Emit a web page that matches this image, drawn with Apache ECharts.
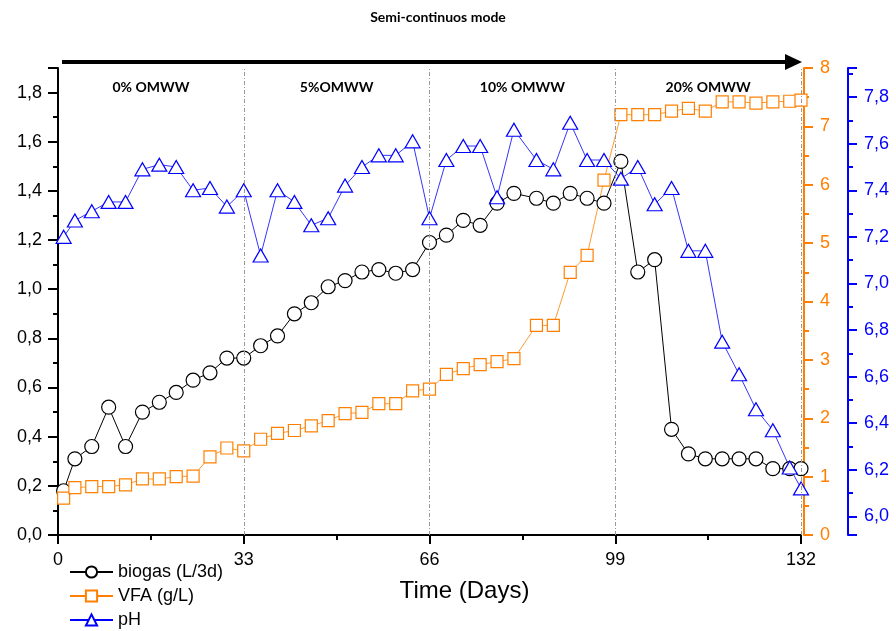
<!DOCTYPE html>
<html>
<head>
<meta charset="utf-8">
<script src="https://cdn.jsdelivr.net/npm/echarts@6/dist/echarts.min.js"></script>
<style>
  html, body { margin: 0; padding: 0; background: #fff; }
  #chart { width: 896px; height: 631px; }
</style>
</head>
<body>
<div id="chart"></div>
<script>
// sampling days (x positions)
const days = [1, 3, 6, 9, 12, 15, 18, 21, 24, 27, 30, 33, 36, 39, 42, 45, 48, 51, 54, 57, 60, 63,
  66, 69, 72, 75, 78, 81, 85, 88, 91, 94, 97, 100, 103, 106, 109, 112, 115, 118, 121, 124, 127, 130, 132]

// biogas (L/3d), left axis
const biogas = [0.18, 0.31, 0.36, 0.52, 0.36, 0.50, 0.54, 0.58, 0.63, 0.66, 0.72, 0.72, 0.77, 0.81, 0.90, 0.945,
  1.01, 1.035, 1.07, 1.08, 1.065, 1.08, 1.19, 1.22, 1.28, 1.26, 1.35, 1.39, 1.37, 1.35, 1.39, 1.37, 1.35, 1.52,
  1.07, 1.12, 0.43, 0.33, 0.31, 0.31, 0.31, 0.31, 0.27, 0.27, 0.27]

// VFA (g/L), orange right axis
const vfa = [0.63, 0.81, 0.83, 0.83, 0.86, 0.96, 0.96, 1.00, 1.01, 1.34, 1.49, 1.44, 1.64, 1.74, 1.79, 1.87,
  1.96, 2.08, 2.10, 2.25, 2.25, 2.47, 2.50, 2.75, 2.85, 2.92, 2.97, 3.02, 3.59, 3.59, 4.50, 4.79, 6.08, 7.20,
  7.20, 7.20, 7.26, 7.31, 7.26, 7.42, 7.42, 7.40, 7.42, 7.43, 7.45]

// pH, blue right axis
const ph = [7.20, 7.27, 7.31, 7.35, 7.35, 7.49, 7.51, 7.50, 7.40, 7.41, 7.33, 7.40, 7.12, 7.40, 7.35, 7.25,
  7.28, 7.42, 7.50, 7.55, 7.55, 7.61, 7.28, 7.53, 7.59, 7.59, 7.37, 7.66, 7.53, 7.49, 7.69, 7.53, 7.53, 7.45,
  7.50, 7.34, 7.41, 7.14, 7.14, 6.75, 6.61, 6.46, 6.37, 6.21, 6.12]

// feeding phases
const phaseStarts = [0, 33, 66, 99]
const phaseEnds = [33, 66, 99, 132]
const phaseNames = ['0% OMWW', '5%OMWW', '10% OMWW', '20% OMWW']

const ORANGE = '#ff8000'
const BLUE = '#0000ff'
const FONT = 'Liberation Sans'

const comma = (v) => v.toFixed(1).replace('.', ',')
const pairs = (ys) => days.map((d, i) => [d, ys[i]])

const chart = echarts.init(document.getElementById('chart'))

chart.setOption({
  animation: false,
  textStyle: { fontFamily: FONT },
  grid: { left: 58, right: 95, top: 68, bottom: 96, containLabel: false },
  graphic: [
    {
      type: 'text', x: 438, y: 10,
      style: { text: 'Semi-continuos mode', font: 'bold 14px Lato', fill: '#000', textAlign: 'center' }
    },
    { type: 'rect', shape: { x: 62, y: 60, width: 725, height: 4 }, style: { fill: '#000' } },
    { type: 'polygon', shape: { points: [[785, 54], [802, 62], [785, 70]] }, style: { fill: '#000' } }
  ],
  legend: {
    orient: 'vertical',
    left: 69,
    top: 563,
    height: 80,
    padding: 0,
    itemWidth: 43,
    itemHeight: 14,
    itemGap: 6,
    textStyle: { fontSize: 18, color: '#000', fontFamily: FONT },
    data: ['biogas (L/3d)', 'VFA (g/L)', 'pH']
  },
  xAxis: {
    type: 'value',
    min: 0,
    max: 132,
    interval: 33,
    name: 'Time (Days)',
    nameLocation: 'middle',
    nameGap: 44,
    nameTextStyle: { fontSize: 24, color: '#000', padding: [0, 0, 0, 70] },
    axisLine: { lineStyle: { color: '#000', width: 2 } },
    axisTick: { length: 9, lineStyle: { color: '#000', width: 2 } },
    minorTick: { show: true, splitNumber: 2, length: 5, lineStyle: { color: '#000', width: 2 } },
    splitLine: { show: false },
    axisLabel: { fontSize: 18, color: '#000', margin: 16 }
  },
  yAxis: [
    {
      type: 'value',
      position: 'left',
      min: 0,
      max: 1.9,
      interval: 0.2,
      axisLine: { show: true, lineStyle: { color: '#000', width: 2 } },
      axisTick: { show: true, length: 10, lineStyle: { color: '#000', width: 2 } },
      minorTick: { show: true, splitNumber: 2, length: 5, lineStyle: { color: '#000', width: 2 } },
      splitLine: { show: false },
      axisLabel: { fontSize: 18, color: '#000', margin: 16, showMaxLabel: false, formatter: comma }
    },
    {
      type: 'value',
      position: 'right',
      offset: 3,
      min: 0,
      max: 8,
      interval: 1,
      axisLine: { show: true, lineStyle: { color: ORANGE, width: 2 } },
      axisTick: { show: true, length: 9, lineStyle: { color: ORANGE, width: 2 } },
      minorTick: { show: true, splitNumber: 2, length: 5, lineStyle: { color: ORANGE, width: 2 } },
      splitLine: { show: false },
      axisLabel: { fontSize: 18, color: ORANGE, margin: 16 }
    },
    {
      type: 'value',
      position: 'right',
      offset: 47,
      min: 5.92,
      max: 7.925,
      splitNumber: 10,
      axisLine: { show: true, lineStyle: { color: BLUE, width: 2 } },
      axisTick: { show: true, length: 9, lineStyle: { color: BLUE, width: 2 } },
      minorTick: { show: true, splitNumber: 2, length: 5, lineStyle: { color: BLUE, width: 2 } },
      splitLine: { show: false },
      axisLabel: { fontSize: 18, color: BLUE, margin: 16, showMinLabel: false, showMaxLabel: false, formatter: comma }
    }
  ],
  series: [
    {
      name: 'biogas (L/3d)',
      type: 'line',
      yAxisIndex: 0,
      data: pairs(biogas),
      symbol: 'circle',
      symbolSize: 14,
      color: '#000',
      itemStyle: { color: '#fff', borderColor: '#000', borderWidth: 1.2 },
      lineStyle: { color: '#000', width: 1 },
      emphasis: { disabled: true },
      markLine: {
        silent: true,
        symbol: ['none', 'none'],
        label: { show: false },
        lineStyle: { color: '#999', width: 1, type: [4, 2, 1, 2] },
        data: phaseEnds.map((d) => ({ xAxis: d }))
      },
      markArea: {
        silent: true,
        itemStyle: { color: 'rgba(0,0,0,0)' },
        label: {
          show: true,
          position: 'insideTop',
          distance: 12,
          fontFamily: 'Lato',
          fontWeight: 'bold',
          fontSize: 14,
          color: '#000'
        },
        data: phaseNames.map((n, i) => [{ name: n, xAxis: phaseStarts[i] }, { xAxis: phaseEnds[i] }])
      }
    },
    {
      name: 'VFA (g/L)',
      type: 'line',
      yAxisIndex: 1,
      data: pairs(vfa),
      symbol: 'rect',
      symbolSize: 12,
      color: ORANGE,
      itemStyle: { color: '#fff', borderColor: ORANGE, borderWidth: 1.2 },
      lineStyle: { color: ORANGE, width: 0.8 },
      emphasis: { disabled: true }
    },
    {
      name: 'pH',
      type: 'line',
      yAxisIndex: 2,
      data: pairs(ph),
      symbol: 'triangle',
      symbolSize: [15, 13],
      color: BLUE,
      itemStyle: { color: '#fff', borderColor: BLUE, borderWidth: 1.2 },
      lineStyle: { color: BLUE, width: 0.8 },
      emphasis: { disabled: true }
    }
  ]
})
</script>
</body>
</html>
